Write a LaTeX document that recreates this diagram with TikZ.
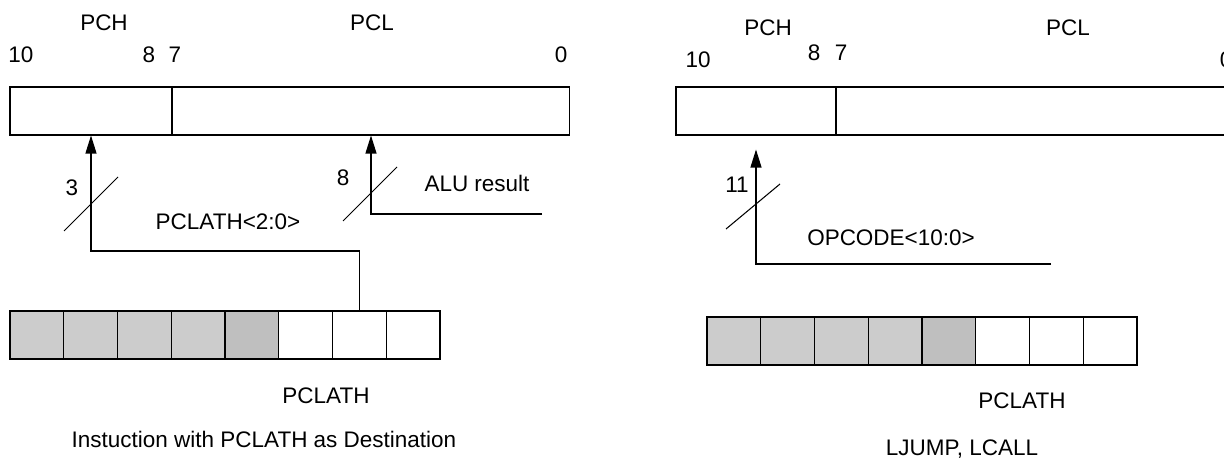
\documentclass[tikz,border=0pt]{standalone}
\usepackage{fontspec}
\setmainfont{Liberation Sans}
\usetikzlibrary{arrows.meta,positioning}
\definecolor{bitgray}{HTML}{CCCCCC}
\definecolor{bitdark}{HTML}{BFBFBF}

\begin{document}
\begin{tikzpicture}[x=0.02cm, y=-0.02cm, line width=0.6pt,
    reg/.style={draw, minimum height=0.96cm, inner sep=0pt},
    cell/.style={draw, minimum width=1.075cm, minimum height=0.96cm, inner sep=0pt},
    lbl/.style={inner sep=0pt, font=\fontsize{12.8}{15}\selectfont},
    bus/.style={-{Triangle[length=3.6mm, width=2.2mm]}}]
    \useasboundingbox (0,0) rectangle (1224,459);

    % left: instruction with PCLATH as destination
    \node[reg, minimum width=3.24cm] (pch) at (91,111) {};
    \node[reg, minimum width=7.96cm] (pcl) at (371,111) {};
    \node[lbl] (pchname) at (104,23) {PCH};
    \node[lbl] (pclname) at (372,23) {PCL};
    \node[lbl] (b10) at (21,55) {10};
    \node[lbl] (b8) at (149,55) {8};
    \node[lbl] (b7) at (175,55) {7};
    \node[lbl] (b0) at (561,55) {0};
    \foreach \i/\f in {1/bitgray,2/bitgray,3/bitgray,4/bitgray,5/bitdark,6/white,7/white,8/white}
        \node[cell, fill=\f] (a\i) at ({10+53.75*(\i-0.5)},335) {};
    \node[lbl] (pclath) at (326,396) {PCLATH};
    \node[lbl] (title) at (264,439) {Instuction with PCLATH as Destination};

    \coordinate (pbend) at (91,251);
    \coordinate (alu) at (542,214);
    \draw[bus] (a7.north) |- (pbend) -- (pch.south);
    \draw[bus] (alu) -| (pcl.south);
    \draw (91,204) ++(-27,27) -- ++(54,-54);
    \draw (370,194) ++(-27,27) -- ++(54,-54);
    \node[lbl] (w3) at (72,188) {3};
    \node[lbl] (w8) at (343,178) {8};
    \node[lbl] (aluname) at (477,183) {ALU result};
    \node[lbl] (pclathbits) at (228,222) {PCLATH<2:0>};

    % right: LJUMP, LCALL
    \node[reg, minimum width=3.2cm] (rpch) at (756,111) {};
    \node[reg, minimum width=7.88cm] (rpcl) at (1033,111) {};
    \node[lbl] (rpchname) at (768,28) {PCH};
    \node[lbl] (rpclname) at (1068,28) {PCL};
    \node[lbl] (r10) at (698,60) {10};
    \node[lbl] (r8) at (814,53) {8};
    \node[lbl] (r7) at (841,53) {7};
    \node[lbl] (r0) at (1226,60) {0};
    \foreach \i/\f in {1/bitgray,2/bitgray,3/bitgray,4/bitgray,5/bitdark,6/white,7/white,8/white}
        \node[cell, fill=\f] (b\i) at ({707+53.75*(\i-0.5)},341) {};
    \node[lbl] (rpclath) at (1022,401) {PCLATH};
    \node[lbl] (rtitle) at (962,449) {LJUMP, LCALL};

    \coordinate (opc) at (1051,264);
    \draw[bus, shorten >=0.28cm] (opc) -| (rpch.south);
    \draw (753,206) ++(-27,23) -- ++(54,-45);
    \node[lbl] (w11) at (737,185) {11};
    \node[lbl] (opcname) at (891,238) {OPCODE<10:0>};
\end{tikzpicture}
\end{document}
